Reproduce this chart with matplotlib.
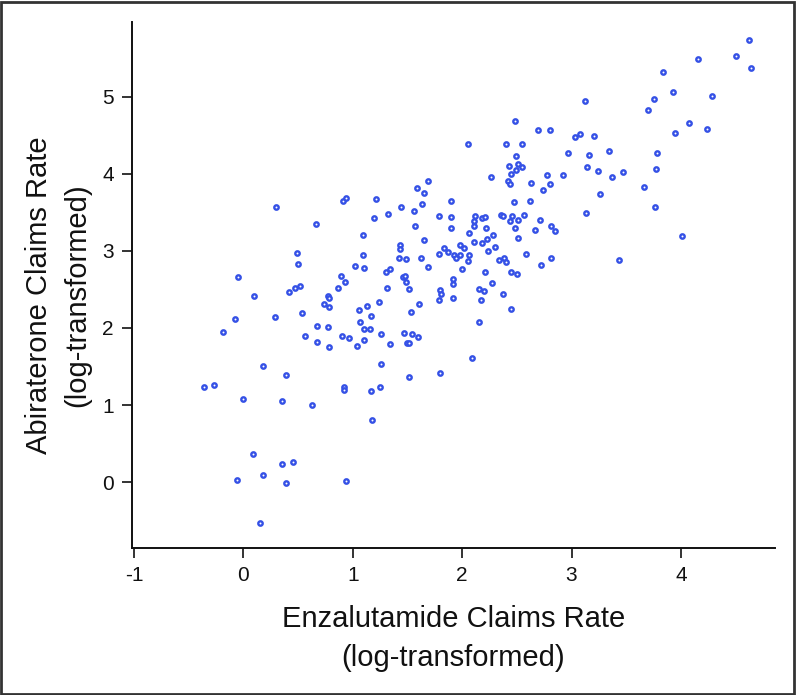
import matplotlib
matplotlib.use("Agg")
import matplotlib.pyplot as plt
from matplotlib.patches import Rectangle

enzalutamide = [
    0.30, 0.49, 0.50, 0.66, 0.91, 0.94, 0.89, 1.02, 1.10, 1.09, 1.09, 1.19, 1.21, 1.32, 1.30, 1.34,
    1.44, 1.43, 1.43, 1.42, 1.49, 1.46, 1.48, 1.56, 1.59, 1.63, 1.65, 1.69, 1.57, 1.65, 1.62, 1.69,
    1.79, 1.79, 1.83, 1.87, 4.62, 4.50, 4.64, 4.16, 3.84, 3.93, 3.75, 3.70, 4.28, 4.07, 4.24, 3.95,
    3.78, 3.77, 3.66, 3.76, 4.01, 3.43, 3.12, 2.48, 2.69, 2.80, 3.03, 3.08, 3.21, 2.05, 2.40, 2.55,
    2.49, 2.97, 3.16, 3.34, 2.43, 2.51, 2.55, 2.49, 2.45, 3.14, 3.24, 3.37, 3.47, 2.78, 2.92, 2.26,
    2.42, 2.44, 2.63, 2.80, 2.74, 3.26, 1.90, 2.47, 2.62, 3.13, 1.90, 2.12, 2.18, 2.21, 2.11, 2.11,
    2.36, 2.37, 2.46, 2.44, 2.51, 2.57, 2.71, 2.81, 2.85, 1.90, 2.22, 2.48, 2.67, 2.06, 2.28, 2.23,
    2.11, 2.18, 2.51, 1.98, 2.02, 1.93, 1.94, 1.98, 2.06, 2.05, 2.30, 2.24, 2.58, 2.81, 2.34, 2.38,
    2.40, 2.00, 2.21, 2.45, 2.50, 2.72, 1.92, 1.49, 1.51, 1.80, 1.81, 1.79, 1.92, 1.92, 2.15, 2.20,
    2.17, 2.27, 2.37, 2.45, 1.61, 1.53, 2.15, 1.47, 1.54, 1.60, 1.50, 1.51, 2.09, 1.80, 1.51, -0.05,
    0.10, 0.42, 0.47, 0.52, -0.08, -0.19, 0.29, 0.54, 0.56, 0.67, 0.67, 0.77, 0.78, 0.74, 0.78, 0.77,
    0.78, 0.87, 0.93, 0.90, 0.97, 1.06, 1.07, 1.13, 1.17, 1.10, 1.16, 1.10, 1.04, 1.24, 1.31, 1.26,
    1.34, 0.18, 0.39, -0.36, -0.27, 0.00, 0.35, 0.63, 0.92, 0.92, 1.26, 1.17, 1.25, 1.18, 0.09, -0.06,
    0.18, 0.35, 0.45, 0.39, 0.94, 0.15,
]

abiraterone = [
    3.57, 2.97, 2.83, 3.35, 3.64, 3.69, 2.67, 2.80, 2.78, 3.20, 2.94, 3.42, 3.67, 3.48, 2.72, 2.76,
    3.57, 3.08, 3.02, 2.91, 2.89, 2.66, 2.67, 3.51, 3.82, 3.61, 3.75, 3.91, 3.32, 3.14, 2.91, 2.79,
    3.45, 2.96, 3.04, 2.99, 5.73, 5.52, 5.37, 5.48, 5.32, 5.06, 4.97, 4.82, 5.01, 4.65, 4.58, 4.53,
    4.27, 4.06, 3.83, 3.57, 3.19, 2.88, 4.94, 4.68, 4.57, 4.57, 4.47, 4.52, 4.49, 4.38, 4.39, 4.38,
    4.23, 4.27, 4.24, 4.29, 4.10, 4.13, 4.09, 4.05, 4.00, 4.09, 4.04, 3.95, 4.02, 3.98, 3.98, 3.95,
    3.91, 3.86, 3.88, 3.87, 3.79, 3.74, 3.65, 3.63, 3.64, 3.49, 3.44, 3.45, 3.43, 3.44, 3.39, 3.32,
    3.47, 3.45, 3.45, 3.39, 3.40, 3.47, 3.40, 3.32, 3.26, 3.29, 3.29, 3.29, 3.27, 3.23, 3.21, 3.15,
    3.12, 3.10, 3.17, 3.07, 3.03, 2.94, 2.91, 2.94, 2.94, 2.87, 3.05, 3.00, 2.96, 2.91, 2.88, 2.91,
    2.85, 2.76, 2.73, 2.72, 2.70, 2.81, 2.64, 2.59, 2.51, 2.49, 2.44, 2.36, 2.57, 2.39, 2.51, 2.48,
    2.36, 2.58, 2.44, 2.24, 2.31, 2.20, 2.08, 1.94, 1.92, 1.88, 1.81, 1.80, 1.61, 1.42, 1.36, 2.66,
    2.41, 2.47, 2.52, 2.54, 2.11, 1.95, 2.14, 2.19, 1.90, 2.03, 1.82, 2.42, 2.39, 2.31, 2.27, 2.01,
    1.75, 2.52, 2.60, 1.89, 1.87, 2.23, 2.08, 2.29, 2.15, 1.99, 1.99, 1.84, 1.76, 2.33, 2.52, 1.92,
    1.79, 1.50, 1.39, 1.24, 1.26, 1.08, 1.05, 1.00, 1.23, 1.20, 1.53, 1.18, 1.23, 0.81, 0.36, 0.03,
    0.09, 0.23, 0.26, -0.01, 0.01, -0.53,
]

x_ticks = [-1, 0, 1, 2, 3, 4]
y_ticks = [0, 1, 2, 3, 4, 5]
x_label = "Enzalutamide Claims Rate\n(log-transformed)"
y_label = "Abiraterone Claims Rate\n(log-transformed)"

plt.rcParams['font.family'] = ['Liberation Sans Narrow', 'Liberation Sans', 'DejaVu Sans']

fig = plt.figure(figsize=(7.96, 6.95), dpi=100)
ax = fig.add_axes([0.1655, 0.2119, 0.9736 - 0.1655, 0.9688 - 0.2119])

ax.scatter(enzalutamide, abiraterone, s=10, facecolors='white', edgecolors='#3551e6',
           linewidths=1.7, zorder=3)

ax.set_xlim(-1.02, 4.86)
ax.set_ylim(-0.85, 5.97)
ax.set_xticks(x_ticks)
ax.set_xticklabels([str(t) for t in x_ticks])
ax.set_yticks(y_ticks)
ax.set_yticklabels([str(t) for t in y_ticks])

for side in ('top', 'right'):
    ax.spines[side].set_visible(False)
for side in ('left', 'bottom'):
    ax.spines[side].set_linewidth(1.4)
    ax.spines[side].set_color('#111111')

ax.tick_params(axis='both', direction='out', length=7, width=1.2, color='#111111',
               labelsize=15, pad=6, labelcolor='#111111')

ax.set_xlabel(x_label, fontsize=21, linespacing=1.5, labelpad=14.5, color='#111111')
ax.set_ylabel(y_label, fontsize=21, linespacing=1.45, color='#111111')
ax.yaxis.set_label_coords(-0.0633, 0.4804)

fig.patches.append(Rectangle((0.0015, 0.002), 0.996, 0.995, transform=fig.transFigure,
                             fill=False, edgecolor='#333333', linewidth=2.0))

fig.savefig("out.png", dpi=100)
